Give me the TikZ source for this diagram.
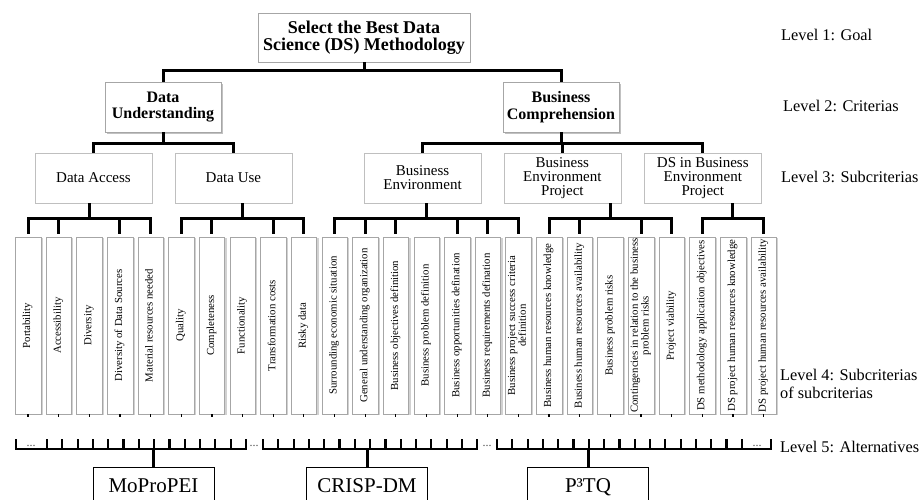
\documentclass[tikz,border=0pt]{standalone}
\usepackage{graphicx}
\usepackage{fontspec}
\setmainfont{Liberation Serif}
\usetikzlibrary{positioning, shadows}

\newcommand{\leaftext}[1]{\rotatebox{90}{\begin{tabular}{@{}c@{}}#1\end{tabular}}}

\begin{document}
\begin{tikzpicture}[x=1pt, y=-1pt,
    box/.style={draw=gray!70, fill=white, align=center, inner sep=1pt},
    goalbox/.style={box, minimum width=212pt, minimum height=49pt,
        font=\fontsize{18}{17.5}\selectfont\bfseries},
    critbox/.style={box, minimum width=116pt, minimum height=50pt,
        font=\fontsize{16}{16.5}\selectfont\bfseries,
        drop shadow={shadow xshift=2pt, shadow yshift=-2pt, fill=gray!70, opacity=0.7}},
    subbox/.style={box, draw=gray!50, minimum width=117pt, minimum height=50pt,
        font=\fontsize{15}{14}\selectfont},
    leaf/.style={box, minimum width=25.5pt, minimum height=177pt, inner sep=0.5pt,
        font=\fontsize{10.8}{10.7}\selectfont,
        drop shadow={shadow xshift=2pt, shadow yshift=-1pt, fill=gray!60, opacity=0.6}},
    altbox/.style={draw=black, line width=0.8pt, fill=white, anchor=north,
        minimum width=121pt, minimum height=40pt, text height=15pt, text depth=4pt,
        font=\fontsize{21}{21}\selectfont},
    levellabel/.style={anchor=base west, inner sep=0pt, align=left,
        font=\fontsize{16.3}{18}\selectfont},
    dots/.style={anchor=base, inner sep=0pt, text=gray!60!black, font=\fontsize{12}{12}\selectfont},
    link/.style={line width=3pt},
    bracket/.style={line width=2.2pt},
    stub/.style={line width=1.2pt},
]
    \useasboundingbox (0,0) rectangle (923,500);

    % Level 1 and 2
    \node[goalbox] (goal) at (364,37.5) {Select the Best Data\\Science (DS) Methodology};
    \node[critbox] (du) at (163,107) {Data\\Understanding};
    \node[critbox] (bc) at (561,107) {Business\\Comprehension};

    % Level 3
    \node[subbox] (da) at (93.5,178) {Data Access};
    \node[subbox, right=22.5pt of da] (dU) {Data Use};
    \node[subbox] (be) at (422.5,178) {Business\\Environment};
    \node[subbox, right=22.5pt of be] (bep) {Business\\Environment\\Project};
    \node[subbox, right=23pt of bep] (ds) {DS in Business\\Environment\\Project};

    % Level 4: subcriterias of subcriterias
    \node[leaf] (a0) at (28,325.5) {\leaftext{Portability}};
    \node[leaf, right=4.75pt of a0] (a1) {\leaftext{Accessibility}};
    \node[leaf, right=4.75pt of a1] (a2) {\leaftext{Diversity}};
    \node[leaf, right=4.75pt of a2] (a3) {\leaftext{Diversity of Data Sources}};
    \node[leaf, right=4.75pt of a3] (a4) {\leaftext{Material resources needed}};
    \node[leaf, right=4.75pt of a4] (u0) {\leaftext{Quality}};
    \node[leaf, right=4.75pt of u0] (u1) {\leaftext{Completeness}};
    \node[leaf, right=4.75pt of u1] (u2) {\leaftext{Functionality}};
    \node[leaf, right=4.75pt of u2] (u3) {\leaftext{Transformation costs}};
    \node[leaf, right=4.75pt of u3] (u4) {\leaftext{Risky data}};
    \node[leaf, right=4.75pt of u4] (e0) {\leaftext{Surrounding economic situation}};
    \node[leaf, right=4.75pt of e0] (e1) {\leaftext{General understanding organization}};
    \node[leaf, right=4.75pt of e1] (e2) {\leaftext{Business objectives definition}};
    \node[leaf, right=4.75pt of e2] (e3) {\leaftext{Business problem definition}};
    \node[leaf, right=4.75pt of e3] (e4) {\leaftext{Business opportunities defination}};
    \node[leaf, right=4.75pt of e4] (e5) {\leaftext{Business requirements defination}};
    \node[leaf, right=4.75pt of e5] (e6) {\leaftext{Business project success criteria\\definition}};
    \node[leaf, right=4.75pt of e6] (p0) {\leaftext{Business human resources knowledge}};
    \node[leaf, right=4.75pt of p0] (p1) {\leaftext{Business human resources availability}};
    \node[leaf, right=4.75pt of p1] (p2) {\leaftext{Business problem risks}};
    \node[leaf, right=4.75pt of p2] (p3) {\leaftext{Contingencies in relation to the business\\problem risks}};
    \node[leaf, right=4.75pt of p3] (p4) {\leaftext{Project viability}};
    \node[leaf, right=4.75pt of p4] (d0) {\leaftext{DS methodology application objectives}};
    \node[leaf, right=4.75pt of d0] (d1) {\leaftext{DS project human resources knowledge}};
    \node[leaf, right=4.75pt of d1] (d2) {\leaftext{DS project human resources availability}};

    % Level 5: alternatives
    \node[altbox] (mo) at (153.5,467) {MoProPEI};
    \node[altbox] (cr) at (367,467) {CRISP-DM};
    \node[altbox] (pt) at (588,467) {P³TQ};

    % Level labels
    \node[levellabel] (lv1) at (781,41) {Level 1: Goal};
    \node[levellabel] (lv2) at (783,112) {Level 2: Criterias};
    \node[levellabel] (lv3) at (781,182) {Level 3: Subcriterias};
    \node[levellabel] (lv4) at (780,398) {Level 4: Subcriterias\\of subcriterias};
    \node[levellabel] (lv5) at (780,452) {Level 5: Alternatives};

    % goal -> criterias
    \draw[link] (goal.south) -- ++(0,8) coordinate (g1);
    \draw[link] (du.north) |- (g1) -| (bc.north);

    % criterias -> subcriterias
    \draw[link] (du.south) -- ++(0,11) coordinate (g2);
    \draw[link] (da.north) |- (g2) -| (dU.north);
    \draw[link] (bc.south) -- ++(0,11) coordinate (g3);
    \draw[link] (be.north) |- (g3) -| (ds.north);
    \draw[link] (bep.north) -- (bep.north |- g3);

    % subcriterias -> subcriterias of subcriterias
    \draw[link] (da.south -| a2) -- ++(0,15) coordinate (ga);
    \draw[link] ([yshift=3pt]a0.north) |- (ga) -| ([yshift=3pt]a4.north);
    \foreach \n in {a1,a3}
        \draw[link] ([yshift=3pt]\n.north) -- (\n |- ga);
    \draw[link] (dU.south -| u2) -- ++(0,15) coordinate (gu);
    \draw[link] ([yshift=3pt]u0.north) |- (gu) -| ([yshift=3pt]u4.north);
    \foreach \n in {u1,u3}
        \draw[link] ([yshift=3pt]\n.north) -- (\n |- gu);
    \draw[link] (be.south -| e3) -- ++(0,15) coordinate (ge);
    \draw[link] ([yshift=3pt]e0.north) |- (ge) -| ([yshift=3pt]e6.north);
    \foreach \n in {e1,e2,e4,e5}
        \draw[link] ([yshift=3pt]\n.north) -- (\n |- ge);
    \draw[link] (bep.south -| p2) -- ++(0,15) coordinate (gp);
    \draw[link] ([yshift=3pt]p0.north) |- (gp) -| ([yshift=3pt]p4.north);
    \foreach \n in {p1,p3}
        \draw[link] ([yshift=3pt]\n.north) -- (\n |- gp);
    \draw[link] (ds.south -| d1) -- ++(0,15) coordinate (gd);
    \draw[link] ([yshift=3pt]d0.north) |- (gd) -| ([yshift=3pt]d2.north);

    % small stubs under the leaves
    \foreach \n in {a0,a1,a2,a3,a4,u0,u1,u2,u3,u4,e0,e1,e2,e3,e4,e5,e6,p0,p1,p2,p3,p4,d0,d1,d2}
        \draw[stub] (\n.south) -- ++(0,3);

    % alternatives -> brackets
    \coordinate (m-l) at (16,439);
    \coordinate (m-r) at (246,439);
    \coordinate (c-l) at (263,439);
    \coordinate (c-r) at (477,439);
    \coordinate (p-l) at (497,439);
    \coordinate (p-r) at (771,439);
    \draw[link] (mo.north) -- ++(0,-18) coordinate (bm);
    \draw[bracket] (m-l) |- (bm) -| (m-r);
    \foreach \k in {0,...,12}
        \draw[bracket] (47+15.3*\k,449) -- ++(0,-10);
    \draw[link] (cr.north) -- ++(0,-18) coordinate (bc5);
    \draw[bracket] (c-l) |- (bc5) -| (c-r);
    \foreach \k in {1,...,13}
        \draw[bracket] (263+15.3*\k,449) -- ++(0,-10);
    \draw[link] (pt.north) -- ++(0,-18) coordinate (bp);
    \draw[bracket] (p-l) |- (bp) -| (p-r);
    \foreach \k in {1,...,16}
        \draw[bracket] (497+15.3*\k,449) -- ++(0,-10);

    \node[dots] (dt1) at (31,446) {...};
    \node[dots] (dt2) at (254,446) {...};
    \node[dots] (dt3) at (487,446) {...};
    \node[dots] (dt4) at (757,446) {...};
\end{tikzpicture}
\end{document}
